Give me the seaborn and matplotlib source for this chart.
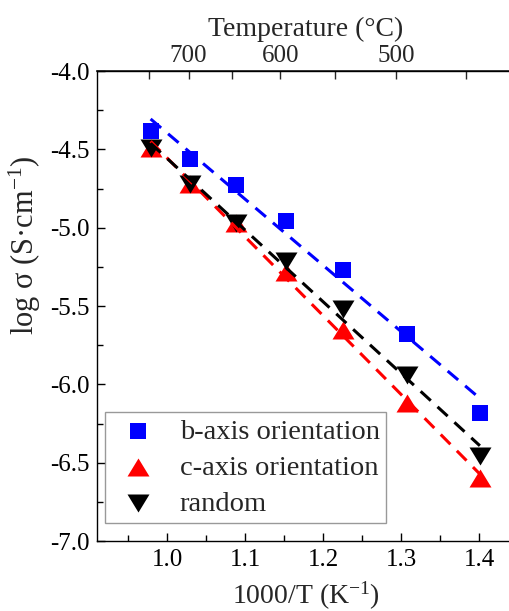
import numpy as np
import pandas as pd
import matplotlib
matplotlib.use("Agg")
import matplotlib.pyplot as plt
import seaborn as sns

# --- data ---
inv_T = [0.979, 1.030, 1.088, 1.152, 1.225, 1.307, 1.401]   # 1000/T (K^-1)
b_axis = [-4.38, -4.56, -4.73, -4.96, -5.27, -5.68, -6.18]
c_axis = [-4.49, -4.72, -4.97, -5.28, -5.65, -6.12, -6.60]
random_ = [-4.49, -4.72, -4.97, -5.21, -5.52, -5.94, -6.46]

series_names = ["b-axis orientation", "c-axis orientation", "random"]
series_vals = [b_axis, c_axis, random_]
colors = ["#0000FF", "#FF0000", "#000000"]

temp_ticks = [750, 700, 650, 600, 550, 500, 450]
temp_labels = ["", "700", "", "600", "", "500", ""]

sns.set_theme(style="ticks")
plt.rcParams["font.family"] = ["Liberation Serif", "DejaVu Serif"]
plt.rcParams["mathtext.default"] = "regular"
plt.rcParams["axes.unicode_minus"] = False

# wide flat triangles (Origin style)
up_tri = [(-1, -0.82), (1, -0.82), (0, 0.82)]
down_tri = [(-1, 0.82), (1, 0.82), (0, -0.82)]
markers = ["s", up_tri, down_tri]
sizes = [130, 250, 250]

fig = plt.figure(figsize=(5.09, 6.11), dpi=100)
ax = fig.add_axes([97 / 509, 70 / 611, 418 / 509, 470 / 611])

for name, vals, col, mk, sz in zip(series_names, series_vals, colors, markers, sizes):
    df = pd.DataFrame({"x": inv_T, "y": vals})
    sns.scatterplot(data=df, x="x", y="y", ax=ax, color=col, marker=mk, s=sz,
                    linewidth=0, label=name, zorder=3)

# linear (Arrhenius) fits, drawn on top of the markers
for vals, col in zip(series_vals, colors):
    df = pd.DataFrame({"x": inv_T, "y": vals})
    sns.regplot(data=df, x="x", y="y", ax=ax, scatter=False, ci=None, truncate=True,
                line_kws=dict(color=col, lw=2.2, linestyle=(0, (4.5, 3.0)), zorder=4))

ax.set_xlim(0.9103, 1.446)
ax.set_ylim(-7.0, -4.0)
ax.set_xticks([1.0, 1.1, 1.2, 1.3, 1.4])
ax.set_xticks(np.arange(0.95, 1.45, 0.1), minor=True)
ax.set_yticks(np.arange(-7.0, -3.99, 0.5))
ax.set_yticks(np.arange(-6.75, -4.0, 0.5), minor=True)
ax.yaxis.set_major_formatter(matplotlib.ticker.FormatStrFormatter("%.1f"))

ax.tick_params(which="both", direction="in", top=False, right=False, labelsize=18, colors="black")
ax.tick_params(axis="x", which="major", length=6, width=1, pad=6)
ax.tick_params(axis="x", which="minor", length=4, width=1)
ax.tick_params(axis="y", which="major", length=6, width=1, pad=5)
ax.tick_params(axis="y", which="minor", length=4, width=1)
for sp in ax.spines.values():
    sp.set_linewidth(1.0)
    sp.set_color("black")

ax.set_xlabel("1000/T (K$^{-1}$)", fontsize=20, labelpad=6)
ax.set_ylabel("log σ (S·cm$^{-1}$)", fontsize=22)
ax.yaxis.set_label_coords(-0.13, 0.63)

# temperature scale on top
top = ax.secondary_xaxis("top", functions=(lambda x: 1000.0 / x - 273.15,
                                           lambda t: 1000.0 / (t + 273.15)))
top.set_xticks(temp_ticks)
top.set_xticklabels(temp_labels)
top.tick_params(direction="in", length=6, width=1, labelsize=18, pad=3)
top.set_xlabel("Temperature (°C)", fontsize=20, labelpad=6)

leg = ax.legend(loc="lower left", bbox_to_anchor=(0.019, 0.038), borderaxespad=0,
                fontsize=20.5, frameon=True, fancybox=False, edgecolor="#808080",
                handlelength=1.9, handletextpad=0.5, labelspacing=0.36, borderpad=0.22)
leg.get_frame().set_linewidth(1.0)

fig.savefig("out.png", dpi=100)
